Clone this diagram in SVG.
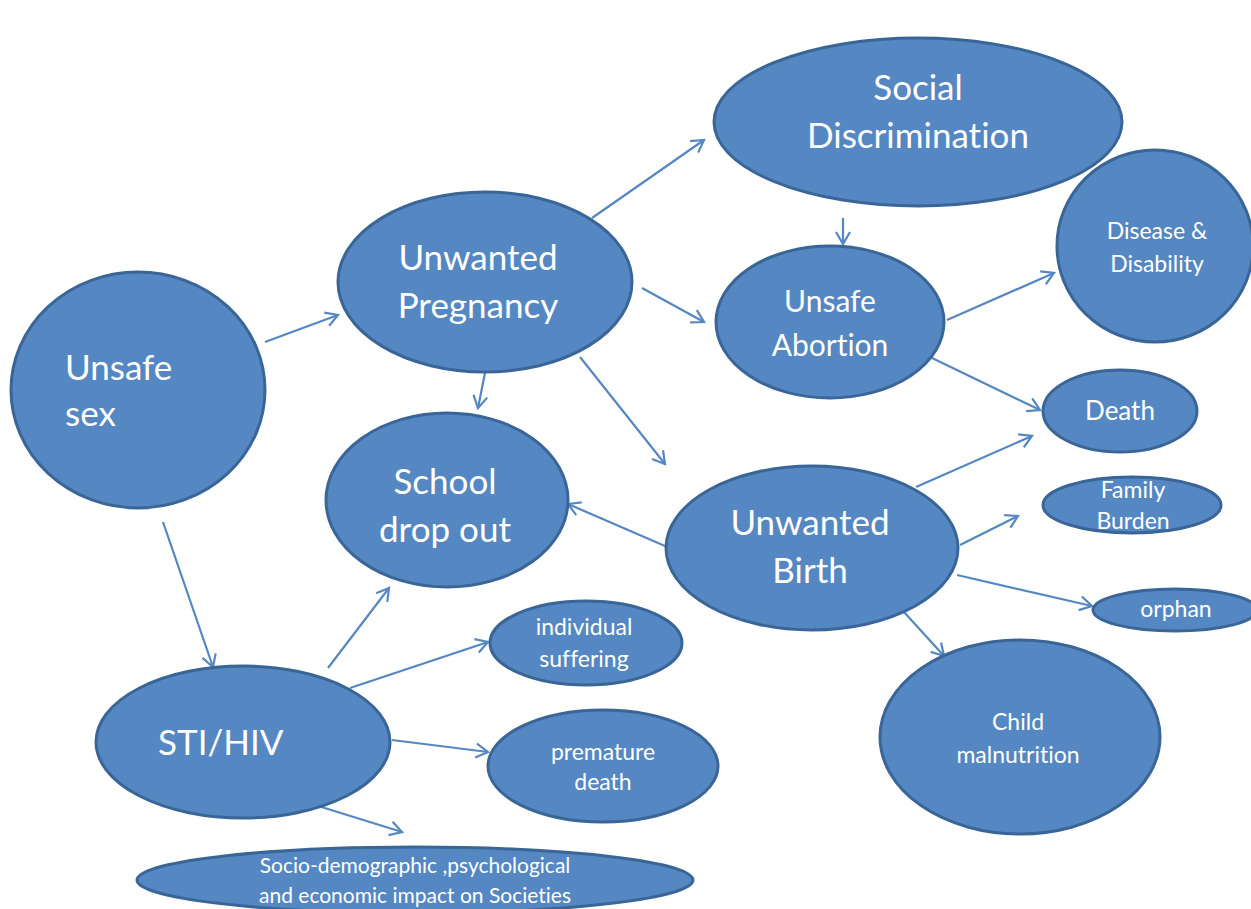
<svg xmlns="http://www.w3.org/2000/svg" width="1251" height="909" viewBox="0 0 1251 909">
<style>
.n{fill:#5587C2;stroke:#3A6597;stroke-width:3}
.t{fill:#fff;font-family:Lato,"Liberation Sans",sans-serif;text-anchor:middle;font-variant-ligatures:none;font-feature-settings:"liga" 0}
.b{font-size:35px}
.m{font-size:30px}
.s{font-size:23px}
.x{font-size:21px}
.c line{stroke:#5587C2;stroke-width:2.2;marker-end:url(#a)}
</style>
<defs>
<marker id="a" markerUnits="userSpaceOnUse" markerWidth="20" markerHeight="20" viewBox="0 0 20 20" refX="15" refY="10" orient="auto">
<path d="M3,3 L15,10 L3,17" fill="none" stroke="#5587C2" stroke-width="2.2"/>
</marker>
</defs>
<rect width="1251" height="909" fill="#fff"/>
<g id="connectors" class="c">
<line x1="265" y1="342" x2="338" y2="315"/>
<line x1="592" y1="218" x2="704" y2="140"/>
<line x1="843" y1="218" x2="843" y2="244"/>
<line x1="642" y1="288" x2="704" y2="322"/>
<line x1="485" y1="373" x2="478" y2="408"/>
<line x1="580" y1="357" x2="665" y2="464"/>
<line x1="947" y1="320" x2="1054" y2="273"/>
<line x1="932" y1="358" x2="1040" y2="410"/>
<line x1="916" y1="487" x2="1032" y2="436"/>
<line x1="960" y1="545" x2="1018" y2="516"/>
<line x1="957" y1="575" x2="1092" y2="606"/>
<line x1="904" y1="612" x2="944" y2="656"/>
<line x1="665" y1="546" x2="568" y2="504"/>
<line x1="163" y1="522" x2="213" y2="667"/>
<line x1="328" y1="668" x2="389" y2="588"/>
<line x1="350" y1="688" x2="488" y2="642"/>
<line x1="392" y1="740" x2="488" y2="752"/>
<line x1="315" y1="805" x2="402" y2="832"/>
</g>
<g id="unsafe-sex"><ellipse class="n" cx="138" cy="390" rx="127" ry="118"/>
<text class="t b" x="65" y="380" style="text-anchor:start">Unsafe</text><text class="t b" x="65" y="426" style="text-anchor:start">sex</text></g>
<g id="unwanted-pregnancy"><ellipse class="n" cx="485" cy="282" rx="147" ry="90"/>
<text class="t b" x="478" y="270">Unwanted</text><text class="t b" x="478" y="318">Pregnancy</text></g>
<g id="social-discrimination"><ellipse class="n" cx="918" cy="122" rx="204" ry="84"/>
<text class="t b" x="918" y="100">Social</text><text class="t b" x="918" y="148">Discrimination</text></g>
<g id="unsafe-abortion"><ellipse class="n" cx="830" cy="322" rx="114" ry="76"/>
<text class="t m" x="830" y="312">Unsafe</text><text class="t m" x="830" y="356">Abortion</text></g>
<g id="disease-disability"><ellipse class="n" cx="1155" cy="246" rx="98" ry="96"/>
<text class="t s" x="1157" y="239">Disease &amp;</text><text class="t s" x="1157" y="272">Disability</text></g>
<g id="death"><ellipse class="n" cx="1120" cy="411" rx="77" ry="41"/>
<text class="t" x="1120" y="420" style="font-size:26px">Death</text></g>
<g id="family-burden"><ellipse class="n" cx="1132" cy="505" rx="89" ry="28"/>
<text class="t s" x="1133" y="498">Family</text><text class="t s" x="1133" y="529">Burden</text></g>
<g id="orphan"><ellipse class="n" cx="1175" cy="610" rx="82" ry="21"/>
<text class="t s" x="1176" y="617">orphan</text></g>
<g id="school-drop-out"><ellipse class="n" cx="447" cy="500" rx="121" ry="87"/>
<text class="t b" x="445" y="494">School</text><text class="t b" x="445" y="542">drop out</text></g>
<g id="unwanted-birth"><ellipse class="n" cx="812" cy="548" rx="146" ry="82"/>
<text class="t b" x="810" y="535">Unwanted</text><text class="t b" x="810" y="583">Birth</text></g>
<g id="child-malnutrition"><ellipse class="n" cx="1020" cy="737" rx="140" ry="97"/>
<text class="t s" x="1018" y="730">Child</text><text class="t s" x="1018" y="763">malnutrition</text></g>
<g id="sti-hiv"><ellipse class="n" cx="243" cy="742" rx="147" ry="76"/>
<text class="t b" x="158" y="755" style="text-anchor:start">STI/HIV</text></g>
<g id="individual-suffering"><ellipse class="n" cx="586" cy="643" rx="96" ry="42"/>
<text class="t s" x="584" y="635">individual</text><text class="t s" x="584" y="667">suffering</text></g>
<g id="premature-death"><ellipse class="n" cx="603" cy="766" rx="115" ry="56"/>
<text class="t s" x="603" y="760">premature</text><text class="t s" x="603" y="790">death</text></g>
<g id="socio-impact"><ellipse class="n" cx="415" cy="880" rx="278" ry="33"/>
<text class="t x" x="415" y="873">Socio-demographic ,psychological</text><text class="t x" x="415" y="903">and economic impact on Societies</text></g>
</svg>
